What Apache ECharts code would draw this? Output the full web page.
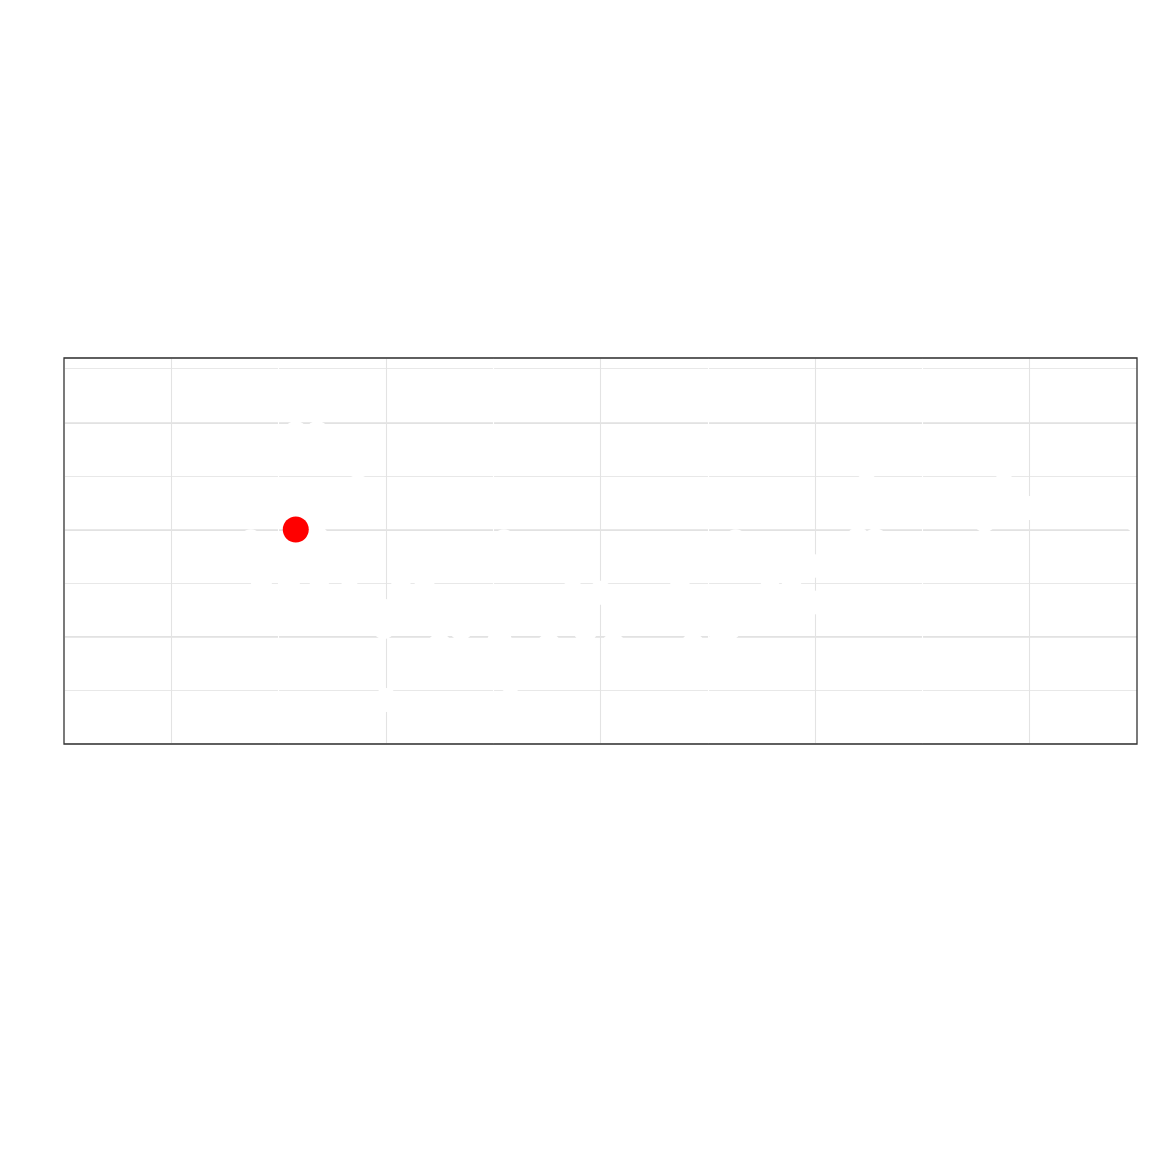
<!DOCTYPE html>
<html>
<head>
<meta charset="utf-8">
<script src="https://cdn.jsdelivr.net/npm/echarts@6/dist/echarts.min.js"></script>
<style>html,body{margin:0;padding:0;background:#fff}#c{width:1152px;height:1152px}</style>
</head>
<body>
<div id="c"></div>
<script>
// White (background-coloured) points, read from the gaps they cut in the grid lines
const pointX = [1.37, 1.47, 1.68, 1.58, 1.68, 1.87, 1.42, 1.55, 1.69, 1.83, 2.07, 2.18, 1.98, 1.99, 2.00,
  2.25, 2.35, 2.53, 2.76, 2.93, 3.06, 3.43, 3.56, 3.60, 2.55, 3.63, 4.20, 4.28, 4.24, 4.79, 4.88, 5.00, 5.50,
  2.87, 3.00, 3.37, 3.79, 3.89, 3.99, 4.01, 2.58];
const pointY = [1.89, 1.87, 1.92, 2.90, 2.90, 2.40, 1.44, 1.55, 1.43, 1.58, 1.43, 1.56, 1.25, 1.09, 0.41,
  0.92, 1.08, 0.97, 0.92, 1.06, 0.92, 0.92, 0.97, 1.08, 1.89, 1.89, 1.91, 1.90, 2.58, 2.09, 2.58, 2.20, 2.08,
  1.58, 1.41, 1.43, 1.57, 1.43, 1.66, 1.32, 0.41];
// Highlighted point
const highlightX = [1.58];
const highlightY = [2.00];

const whiteData = pointX.map((x, i) => [x, pointY[i]]);
const redData = highlightX.map((x, i) => [x, highlightY[i]]);

const chart = echarts.init(document.getElementById('c'), null, {renderer: 'canvas'});
chart.setOption({
  animation: false,
  backgroundColor: '#ffffff',
  grid: {left: 64, top: 358, width: 1073, height: 386, show: true,
    borderColor: '#333333', borderWidth: 1.3, backgroundColor: 'transparent', z: 10},
  xAxis: {
    type: 'value', min: 0.5, max: 5.5, interval: 0.5, z: 1,
    axisLine: {show: false}, axisTick: {show: false}, axisLabel: {show: false},
    splitLine: {show: true, lineStyle: {color: ['#ffffff', '#e3e3e3'], width: 1.1}}
  },
  yAxis: [
    {type: 'value', min: 0, max: 3.6, interval: 1, z: 0,
      axisLine: {show: false}, axisTick: {show: false}, axisLabel: {show: false},
      splitLine: {show: true, lineStyle: {color: '#e2e2e2', width: 2.2}}},
    {type: 'value', min: 0, max: 3.6, interval: 0.5, z: 0,
      axisLine: {show: false}, axisTick: {show: false}, axisLabel: {show: false},
      splitLine: {show: true, lineStyle: {color: '#e8e8e8', width: 1.1}}}
  ],
  series: [
    {type: 'scatter', data: whiteData, symbolSize: 24, z: 3, clip: false,
      itemStyle: {color: '#ffffff', opacity: 1}, silent: true},
    {type: 'scatter', data: redData, symbolSize: 26, z: 4,
      itemStyle: {color: '#ff0000', opacity: 1}, silent: true}
  ]
});
</script>
</body>
</html>
